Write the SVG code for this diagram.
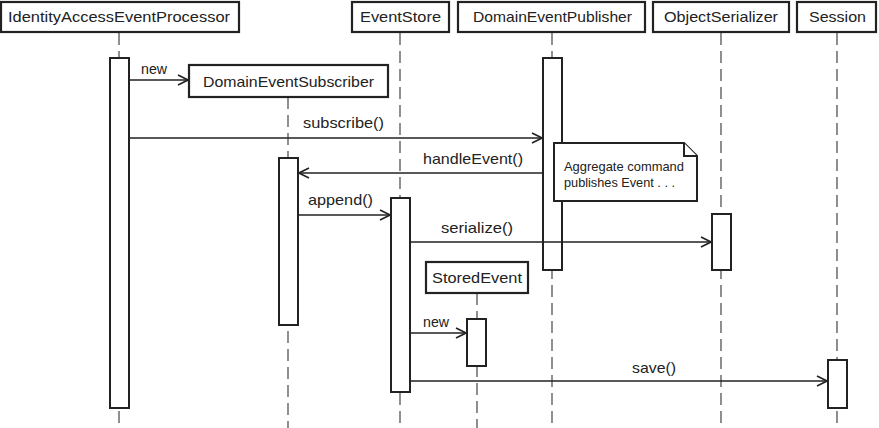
<svg xmlns="http://www.w3.org/2000/svg" width="879" height="428" viewBox="0 0 879 428">
<defs>
<style>
.box{fill:#fff;stroke:#222;stroke-width:2.2}
.act{fill:#fff;stroke:#222;stroke-width:2}
.life{stroke:#333;stroke-width:1.1;stroke-dasharray:12,6;fill:none}
.msg{stroke:#222;stroke-width:1.5;fill:none}
.t{font-family:"Liberation Sans","DejaVu Sans",sans-serif;font-size:15px;fill:#222}
.tm{text-anchor:middle}
.note{fill:#fff;stroke:#222;stroke-width:2}
.nt{font-family:"Liberation Sans","DejaVu Sans",sans-serif;font-size:13px;fill:#222}
</style>
<marker id="ar" viewBox="0 0 12 12" refX="11" refY="6" markerWidth="12" markerHeight="12" markerUnits="userSpaceOnUse" orient="auto">
<path d="M1,1 L11,6 L1,11" fill="none" stroke="#222" stroke-width="1.6"/>
</marker>
</defs>
<rect width="879" height="428" fill="#fff"/>

<g id="lifelines">
<line class="life" x1="119" y1="33" x2="119" y2="428"/>
<line class="life" x1="288" y1="97" x2="288" y2="428"/>
<line class="life" x1="400" y1="33" x2="400" y2="428"/>
<line class="life" x1="477" y1="293" x2="477" y2="428"/>
<line class="life" x1="552" y1="33" x2="552" y2="428"/>
<line class="life" x1="721" y1="33" x2="721" y2="428"/>
<line class="life" x1="837" y1="33" x2="837" y2="428"/>
</g>

<g id="IdentityAccessEventProcessor">
<rect class="box" x="1" y="2" width="238" height="30"/>
<text class="t" x="8" y="22" textLength="222" lengthAdjust="spacingAndGlyphs">IdentityAccessEventProcessor</text>
<rect class="act" x="110" y="58" width="19" height="350"/>
</g>

<g id="DomainEventSubscriber">
<rect class="box" x="189" y="65" width="199" height="32"/>
<text class="t" x="203" y="87" textLength="171" lengthAdjust="spacingAndGlyphs">DomainEventSubscriber</text>
<rect class="act" x="279" y="158" width="19" height="167"/>
</g>

<g id="EventStore">
<rect class="box" x="352" y="2" width="97" height="30"/>
<text class="t" x="360" y="22" textLength="81" lengthAdjust="spacingAndGlyphs">EventStore</text>
<rect class="act" x="391" y="198" width="19" height="194"/>
</g>

<g id="DomainEventPublisher">
<rect class="box" x="458" y="2" width="187" height="30"/>
<text class="t" x="473" y="22" textLength="159" lengthAdjust="spacingAndGlyphs">DomainEventPublisher</text>
<rect class="act" x="543" y="58" width="19" height="212"/>
</g>

<g id="ObjectSerializer">
<rect class="box" x="653" y="2" width="136" height="30"/>
<text class="t" x="664" y="22" textLength="114" lengthAdjust="spacingAndGlyphs">ObjectSerializer</text>
<rect class="act" x="712" y="214" width="19" height="56"/>
</g>

<g id="Session">
<rect class="box" x="797" y="2" width="79" height="30"/>
<text class="t" x="809" y="22" textLength="57" lengthAdjust="spacingAndGlyphs">Session</text>
<rect class="act" x="828" y="360" width="19" height="48"/>
</g>

<g id="StoredEvent">
<rect class="box" x="426" y="262" width="102" height="31"/>
<text class="t" x="432" y="283" textLength="90" lengthAdjust="spacingAndGlyphs">StoredEvent</text>
<rect class="act" x="467" y="319" width="19" height="47"/>
</g>

<g id="note">
<path class="note" d="M554,143 L684,143 L697,156 L697,201 L554,201 Z"/>
<path class="note" d="M684,143 L684,156 L697,156" fill="none"/>
<text class="nt" x="564" y="171" textLength="120" lengthAdjust="spacingAndGlyphs">Aggregate command</text>
<text class="nt" x="564" y="187" textLength="111" lengthAdjust="spacingAndGlyphs">publishes Event . . .</text>
</g>

<g id="connectors">
<line class="msg" x1="129" y1="80" x2="188" y2="80" marker-end="url(#ar)"/>
<text class="t" x="141" y="74" textLength="26" lengthAdjust="spacingAndGlyphs">new</text>
<line class="msg" x1="129" y1="138" x2="542" y2="138" marker-end="url(#ar)"/>
<text class="t" x="303" y="128" textLength="81" lengthAdjust="spacingAndGlyphs">subscribe()</text>
<line class="msg" x1="543" y1="173" x2="299" y2="173" marker-end="url(#ar)"/>
<text class="t" x="423" y="164" textLength="100" lengthAdjust="spacingAndGlyphs">handleEvent()</text>
<line class="msg" x1="298" y1="215" x2="390" y2="215" marker-end="url(#ar)"/>
<text class="t" x="308" y="205" textLength="65" lengthAdjust="spacingAndGlyphs">append()</text>
<line class="msg" x1="410" y1="242" x2="711" y2="242" marker-end="url(#ar)"/>
<text class="t" x="441" y="233" textLength="72" lengthAdjust="spacingAndGlyphs">serialize()</text>
<line class="msg" x1="410" y1="333" x2="466" y2="333" marker-end="url(#ar)"/>
<text class="t" x="423" y="327" textLength="26" lengthAdjust="spacingAndGlyphs">new</text>
<line class="msg" x1="410" y1="381" x2="827" y2="381" marker-end="url(#ar)"/>
<text class="t" x="632" y="373" textLength="44" lengthAdjust="spacingAndGlyphs">save()</text>
</g>
</svg>
